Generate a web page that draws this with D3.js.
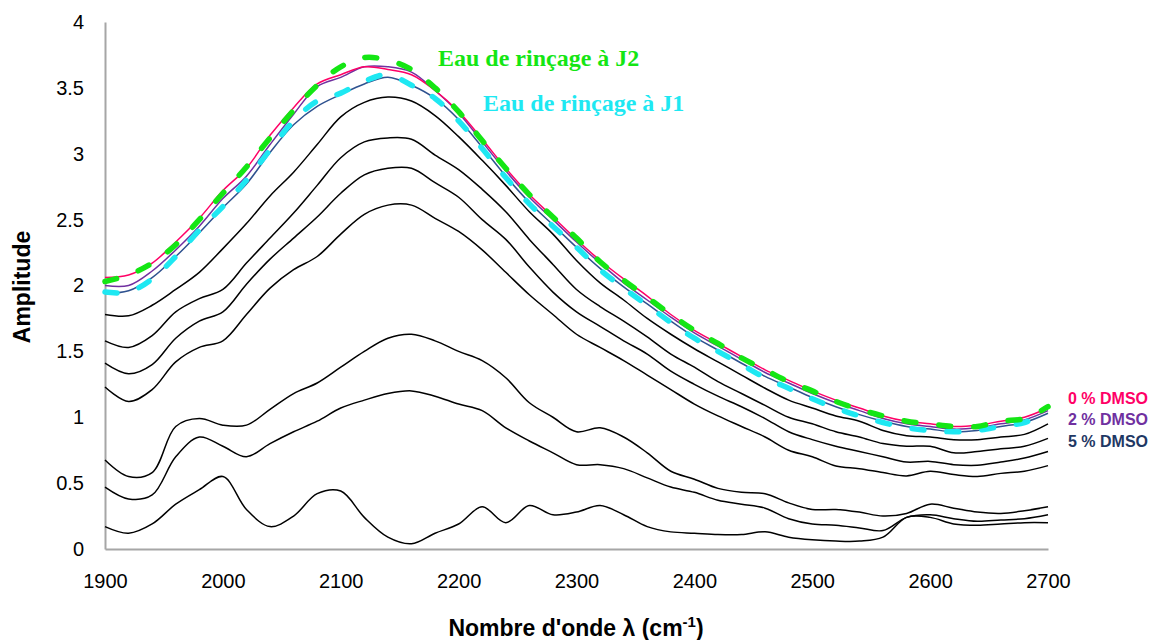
<!DOCTYPE html>
<html><head><meta charset="utf-8">
<script src="https://cdn.jsdelivr.net/npm/d3@7"></script>
<style>body{margin:0;background:#fff} svg{display:block}</style>
</head><body>
<svg id="chart" width="1163" height="640"></svg>
<script>
// ---- data ----
const wavenumbers = [1900,1920,1940,1960,1980,2000,2020,2040,2060,2080,2100,2120,2140,2160,2180,2200,2220,2240,2260,2280,2300,2320,2340,2360,2380,2400,2420,2440,2460,2480,2500,2520,2540,2560,2580,2600,2620,2640,2660,2680,2700];
const yTicks = [0,0.5,1,1.5,2,2.5,3,3.5,4];
const xTicks = [1900,2000,2100,2200,2300,2400,2500,2600,2700];

const eauJ2  = [2.03,2.08,2.17,2.31,2.50,2.70,2.90,3.12,3.33,3.52,3.66,3.73,3.71,3.64,3.50,3.32,3.10,2.89,2.69,2.52,2.36,2.18,2.04,1.91,1.78,1.66,1.56,1.45,1.36,1.27,1.20,1.12,1.06,1.01,0.97,0.95,0.93,0.93,0.97,0.99,1.08];
const dmso0  = [2.06,2.08,2.17,2.33,2.51,2.72,2.89,3.14,3.35,3.53,3.60,3.66,3.64,3.60,3.48,3.32,3.11,2.89,2.69,2.52,2.35,2.19,2.05,1.92,1.78,1.66,1.56,1.46,1.36,1.28,1.20,1.13,1.07,1.01,0.97,0.95,0.93,0.94,0.97,1.00,1.07];
const dmso2  = [2.00,2.00,2.11,2.27,2.45,2.66,2.83,3.07,3.30,3.51,3.58,3.66,3.66,3.62,3.48,3.31,3.09,2.87,2.67,2.50,2.33,2.17,2.02,1.89,1.76,1.64,1.54,1.44,1.34,1.26,1.18,1.11,1.05,0.99,0.95,0.93,0.91,0.92,0.95,0.98,1.05];
const dmso5  = [1.94,1.96,2.06,2.22,2.40,2.59,2.77,3.01,3.22,3.36,3.45,3.53,3.58,3.52,3.42,3.26,3.05,2.83,2.63,2.46,2.29,2.13,1.99,1.86,1.73,1.61,1.51,1.41,1.31,1.23,1.15,1.08,1.02,0.97,0.93,0.91,0.89,0.90,0.93,0.96,1.03];
const eauJ1  = [1.95,1.95,2.05,2.22,2.42,2.60,2.80,3.03,3.25,3.40,3.46,3.55,3.60,3.52,3.42,3.25,3.04,2.82,2.62,2.45,2.29,2.12,1.98,1.85,1.72,1.60,1.50,1.40,1.30,1.22,1.14,1.07,1.01,0.96,0.92,0.90,0.89,0.90,0.93,0.96,1.04];

const curveA = [1.78,1.77,1.85,1.97,2.10,2.28,2.47,2.68,2.86,3.07,3.28,3.39,3.43,3.40,3.29,3.13,2.95,2.76,2.56,2.39,2.19,2.02,1.89,1.75,1.63,1.52,1.42,1.32,1.22,1.13,1.07,1.01,0.97,0.90,0.86,0.85,0.83,0.83,0.85,0.87,0.95];
const curveB = [1.58,1.53,1.62,1.80,1.90,1.97,2.17,2.36,2.55,2.76,2.97,3.09,3.12,3.11,2.99,2.88,2.73,2.56,2.35,2.16,1.97,1.84,1.73,1.61,1.48,1.38,1.27,1.18,1.09,1.00,0.95,0.89,0.85,0.80,0.78,0.78,0.73,0.74,0.76,0.78,0.84];
const curveC = [1.41,1.33,1.40,1.60,1.73,1.80,2.01,2.20,2.36,2.52,2.70,2.84,2.89,2.89,2.78,2.67,2.50,2.35,2.14,1.95,1.80,1.69,1.58,1.48,1.35,1.25,1.16,1.08,0.99,0.89,0.83,0.78,0.74,0.70,0.66,0.665,0.64,0.635,0.66,0.69,0.74];
const curveD = [1.23,1.12,1.21,1.42,1.53,1.58,1.78,1.98,2.12,2.22,2.39,2.54,2.61,2.61,2.51,2.41,2.27,2.10,1.93,1.78,1.63,1.53,1.43,1.32,1.21,1.10,1.01,0.93,0.85,0.75,0.70,0.63,0.61,0.58,0.555,0.59,0.565,0.55,0.574,0.59,0.633];
const curveE = [0.675,0.55,0.58,0.93,0.99,0.94,0.94,1.06,1.18,1.26,1.38,1.50,1.60,1.63,1.58,1.50,1.43,1.30,1.11,1.00,0.89,0.92,0.85,0.73,0.59,0.53,0.46,0.43,0.42,0.35,0.30,0.30,0.28,0.25,0.27,0.34,0.31,0.28,0.27,0.29,0.32];
const curveF = [0.47,0.38,0.41,0.70,0.85,0.78,0.70,0.80,0.89,0.97,1.07,1.13,1.18,1.20,1.16,1.10,1.05,0.92,0.82,0.73,0.64,0.64,0.61,0.54,0.47,0.43,0.37,0.34,0.31,0.23,0.19,0.18,0.16,0.14,0.24,0.26,0.23,0.21,0.22,0.23,0.26];
const curveG = [0.17,0.12,0.19,0.34,0.45,0.55,0.30,0.17,0.25,0.42,0.44,0.24,0.09,0.04,0.12,0.19,0.32,0.20,0.33,0.26,0.28,0.33,0.26,0.17,0.13,0.12,0.11,0.11,0.13,0.09,0.07,0.06,0.06,0.09,0.24,0.24,0.19,0.18,0.19,0.20,0.20];

const blackSeries = [curveA,curveB,curveC,curveD,curveE,curveF,curveG];

// ---- drawing ----
const svg = d3.select('#chart');
const x = d3.scaleLinear().domain([1900,2700]).range([105,1048]);
const y = d3.scaleLinear().domain([0,4]).range([549,22]);

const line = d3.line().x((d,i)=>x(wavenumbers[i])).y(d=>y(d)).curve(d3.curveCatmullRom.alpha(0.5));

const gx = svg.append('g').attr('transform','translate(0,549)')
  .call(d3.axisBottom(x).tickValues(xTicks).tickSize(0).tickPadding(25).tickFormat(d3.format('d')));
const gy = svg.append('g').attr('transform','translate(105,0)')
  .call(d3.axisLeft(y).tickValues(yTicks).tickSize(0).tickPadding(21).tickFormat(d=>String(d)));
[gx,gy].forEach(g=>{
  g.select('.domain').attr('stroke','#a6a6a6').attr('stroke-width',2);
  g.selectAll('text').attr('font-family','Liberation Sans, Arial, sans-serif').attr('font-size',20).attr('fill','#000');
});

const plot = svg.append('g');
blackSeries.forEach(s=>{
  plot.append('path').datum(s).attr('d',line).attr('fill','none').attr('stroke','#000').attr('stroke-width',1.5);
});
plot.append('path').datum(dmso5).attr('d',line).attr('fill','none').attr('stroke','#2f528f').attr('stroke-width',1.5);
plot.append('path').datum(dmso2).attr('d',line).attr('fill','none').attr('stroke','#7030a0').attr('stroke-width',1.5);
plot.append('path').datum(dmso0).attr('d',line).attr('fill','none').attr('stroke','#ff0066').attr('stroke-width',1.5);
plot.append('path').datum(eauJ1).attr('d',line).attr('fill','none').attr('stroke','#1ee8f2').attr('stroke-width',5.5)
  .attr('stroke-dasharray','12 23').attr('stroke-linecap','round');
plot.append('path').datum(eauJ2).attr('d',line).attr('fill','none').attr('stroke','#14e614').attr('stroke-width',5.5)
  .attr('stroke-dasharray','12 23').attr('stroke-linecap','round');

// annotations
svg.append('text').attr('x',438).attr('y',66).text('Eau de rinçage à J2')
  .attr('font-family','Liberation Serif, Times New Roman, serif').attr('font-weight','bold').attr('font-size',24).attr('fill','#14e614');
svg.append('text').attr('x',483).attr('y',111).text('Eau de rinçage à J1')
  .attr('font-family','Liberation Serif, Times New Roman, serif').attr('font-weight','bold').attr('font-size',24).attr('fill','#1ee8f2');

const dmsoLabels = [['0 % DMSO','#ff0066',404],['2 % DMSO','#7030a0',425],['5 % DMSO','#1f3864',447]];
dmsoLabels.forEach(([t,c,yy])=>{
  svg.append('text').attr('x',1068).attr('y',yy).text(t).attr('fill',c)
    .attr('font-family','Liberation Sans, Arial, sans-serif').attr('font-weight','bold').attr('font-size',16);
});

// axis titles
svg.append('text').attr('transform','translate(30,287) rotate(-90)').attr('text-anchor','middle')
  .text('Amplitude').attr('font-family','Liberation Sans, Arial, sans-serif').attr('font-weight','bold').attr('font-size',23);
const xt = svg.append('text').attr('x',576).attr('y',636).attr('text-anchor','middle')
  .attr('font-family','Liberation Sans, Arial, sans-serif').attr('font-weight','bold').attr('font-size',23);
xt.append('tspan').text("Nombre d'onde λ (cm");
xt.append('tspan').text('-1').attr('font-size',15).attr('dy',-9);
xt.append('tspan').text(')').attr('dy',9);
</script>
</body></html>
